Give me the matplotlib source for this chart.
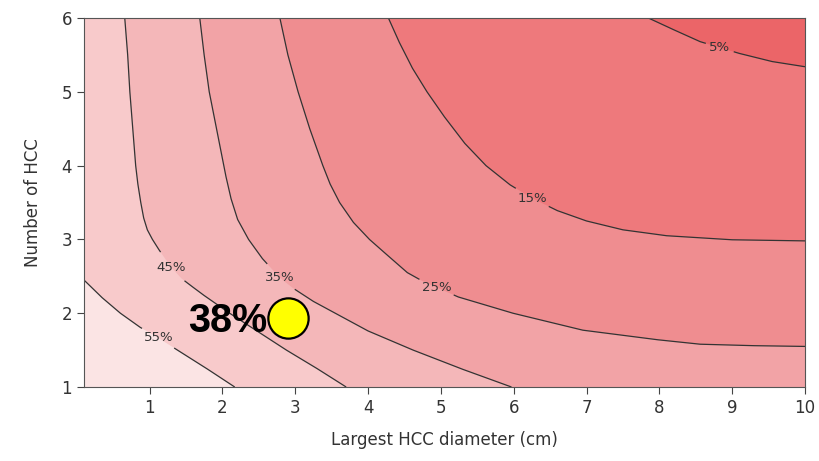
import numpy as np
import matplotlib
matplotlib.use("Agg")
import matplotlib.pyplot as plt
from matplotlib.contour import ContourSet

# iso-survival curves: (diameter cm, number of HCC)
curve_55 = [(0.1, 2.45), (0.35, 2.21), (0.6, 2.0), (0.87, 1.81), (1.12, 1.665),
            (1.4, 1.49), (1.8, 1.24), (2.17, 1.0)]
curve_45 = [(0.66, 6.0), (0.70, 5.5), (0.73, 5.0), (0.77, 4.5), (0.81, 4.0),
            (0.84, 3.75), (0.88, 3.5), (0.92, 3.29), (0.97, 3.13), (1.04, 3.0),
            (1.13, 2.86), (1.22, 2.73), (1.3, 2.62), (1.44, 2.47), (1.6, 2.35),
            (1.75, 2.24), (2.1, 2.0), (2.38, 1.82), (2.88, 1.5), (3.3, 1.25),
            (3.70, 1.0)]
curve_35 = [(1.69, 6.0), (1.75, 5.5), (1.82, 5.0), (1.92, 4.5), (1.99, 4.15),
            (2.05, 3.85), (2.12, 3.55), (2.21, 3.27), (2.36, 3.0), (2.55, 2.74),
            (2.79, 2.48), (2.97, 2.34), (3.25, 2.16), (3.55, 2.0), (4.0, 1.76),
            (4.62, 1.5), (5.3, 1.24), (5.97, 1.0)]
curve_25 = [(2.79, 6.0), (2.9, 5.5), (3.04, 5.0), (3.2, 4.5), (3.38, 4.0),
            (3.48, 3.75), (3.61, 3.5), (3.8, 3.23), (4.02, 3.0), (4.25, 2.8),
            (4.54, 2.55), (4.74, 2.44), (4.94, 2.35), (5.24, 2.22), (5.99, 2.0),
            (6.95, 1.77), (7.98, 1.64), (8.56, 1.58), (9.3, 1.56), (10.0, 1.55)]
curve_15 = [(4.28, 6.0), (4.43, 5.67), (4.61, 5.32), (4.81, 5.0), (5.05, 4.66),
            (5.33, 4.3), (5.62, 4.0), (5.95, 3.74), (6.25, 3.56), (6.6, 3.39),
            (7.0, 3.25), (7.5, 3.13), (8.1, 3.05), (9.0, 2.995), (10.0, 2.98)]
curve_5 = [(7.85, 6.0), (8.2, 5.84), (8.56, 5.68), (9.1, 5.52), (9.55, 5.41),
           (10.0, 5.34)]

levels = [5, 15, 25, 35, 45, 55]
curves = [curve_5, curve_15, curve_25, curve_35, curve_45, curve_55]

# highlighted patient
patient_d = 2.9
patient_n = 1.93
patient_label = "38%"

x_range = (0.1, 10)
y_range = (1, 6)

# band colours: index 0 = below 5%, last = above 55%
band_colors = ['#eb6568', '#ee797c', '#ef8d90', '#f2a3a6', '#f4b7b9',
               '#f8cacb', '#fbe4e4']


def region_beyond(curve):
    # polygon of the part of the axes above/right of a curve (lower survival)
    pts = list(curve)
    x0, x1 = x_range
    y0, y1 = y_range
    end_x, end_y = pts[-1]
    start_x, start_y = pts[0]
    if end_y <= y0 and end_x < x1:
        pts.append((x1, y0))
    pts.append((x1, y1))
    if start_x <= x0 and start_y < y1:
        pts.append((x0, y1))
    return np.array(pts)


fig = plt.figure(figsize=(8.2, 4.61), dpi=100)
ax = fig.add_axes([0.1024, 0.1605, 0.8793, 0.8004])
ax.set_facecolor(band_colors[-1])

# paint from the highest level down so darker bands lie on top
for i in range(len(levels) - 1, -1, -1):
    poly = region_beyond(curves[i])
    ax.fill(poly[:, 0], poly[:, 1], color=band_colors[i], lw=0, zorder=1)

cs = ContourSet(ax, levels, [[np.array(c)] for c in curves],
                colors='#333333', linewidths=0.9, zorder=2)

label_pos = [(8.83, 5.6), (6.25, 3.56), (4.94, 2.35), (2.79, 2.48),
             (1.30, 2.62), (1.12, 1.665)]
fmt = {lv: f"{lv}%" for lv in levels}
labels = ax.clabel(cs, fmt=fmt, fontsize=9.5, colors='#333333',
                   manual=label_pos, inline=True, inline_spacing=4)
for t in labels:
    t.set_rotation(0)

ax.plot(patient_d, patient_n, 'o', ms=29, mfc='#ffff00', mec='black', mew=1.6, zorder=4)
ax.annotate(patient_label, (patient_d, patient_n), xytext=(-15, -2),
            textcoords='offset points', ha='right', va='center', zorder=5,
            fontsize=28.5, fontweight='bold', family='Liberation Sans', color='black')

ax.set_xlim(*x_range)
ax.set_ylim(*y_range)
ax.set_xticks(range(1, 11))
ax.set_yticks(range(1, 7))
ax.tick_params(colors='#444444', labelcolor='#333333', labelsize=12, length=5)
for s in ax.spines.values():
    s.set_color('#555555')
    s.set_zorder(6)
ax.set_xlabel("Largest HCC diameter (cm)", fontsize=12, color='#333333', labelpad=10)
ax.set_ylabel("Number of HCC", fontsize=12, color='#333333', labelpad=14)

fig.savefig("out.png", dpi=100)
